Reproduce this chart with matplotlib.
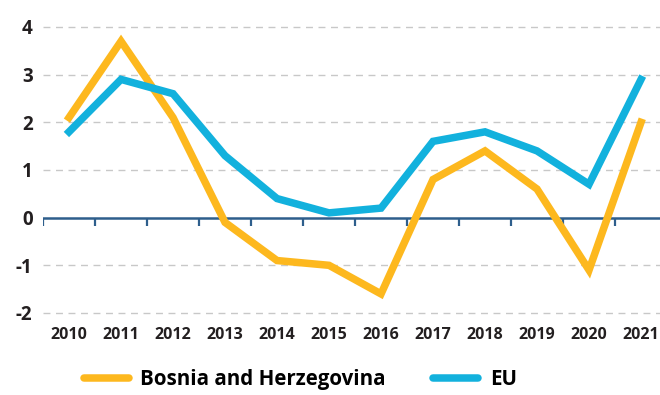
import numpy as np
import matplotlib.pyplot as plt
from matplotlib.lines import Line2D

years = ["2010", "2011", "2012", "2013", "2014", "2015",
         "2016", "2017", "2018", "2019", "2020", "2021"]
bih = [2.1, 3.7, 2.1, -0.1, -0.9, -1.0, -1.6, 0.8, 1.4, 0.6, -1.1, 2.0]
eu = [1.8, 2.9, 2.6, 1.3, 0.4, 0.1, 0.2, 1.6, 1.8, 1.4, 0.7, 2.9]
yticks = [-2, -1, 0, 1, 2, 3, 4]

ORANGE = "#FDB81E"
BLUE = "#12B1DD"
AXIS = "#2E5E8C"
TEXT = "#231F20"

plt.rcParams["font.family"] = ["Open Sans", "DejaVu Sans"]

fig = plt.figure(figsize=(6.6, 3.95), dpi=100)
ax = fig.add_axes([0.0652, 0.1835, 0.9348, 0.7603])

x = np.arange(len(years))
for v in yticks:
    if v != 0:
        ax.axhline(v, color="#C8C8C8", lw=1.0, ls=(0, (5, 4)), zorder=1)
ax.axhline(0, color=AXIS, lw=1.8, zorder=2)
ax.vlines(np.arange(len(years) + 1) - 0.5, -0.17, 0, color=AXIS, lw=1.6, zorder=2)

ax.plot(x, bih, color=ORANGE, lw=5.4, solid_joinstyle="miter", zorder=3)
ax.plot(x, eu, color=BLUE, lw=5.4, solid_joinstyle="miter", zorder=4)

ax.set_xlim(-0.5, 11.365)
ax.set_ylim(-2.2, 4.1)
ax.set_yticks(yticks)
ax.set_yticklabels([str(v) for v in yticks], fontsize=13.5, fontweight="bold",
                   color=TEXT)
ax.set_xticks(x)
ax.set_xticklabels(years, fontsize=11.5, fontweight="bold", color=TEXT)
ax.tick_params(axis="both", length=0)
ax.tick_params(axis="y", pad=7.5)
ax.tick_params(axis="x", pad=3)
for s in ax.spines.values():
    s.set_visible(False)

handles = [Line2D([], [], color=ORANGE, lw=5.4, solid_capstyle="round"),
           Line2D([], [], color=BLUE, lw=5.4, solid_capstyle="round")]
fig.legend(handles, ["Bosnia and Herzegovina", "EU"], loc="lower center",
           bbox_to_anchor=(0.455, -0.035), ncol=2, frameon=False,
           prop={"size": 14.8, "weight": "bold"}, handlelength=2.2,
           columnspacing=2.3, handletextpad=0.55)

fig.savefig("out.png", dpi=100)
